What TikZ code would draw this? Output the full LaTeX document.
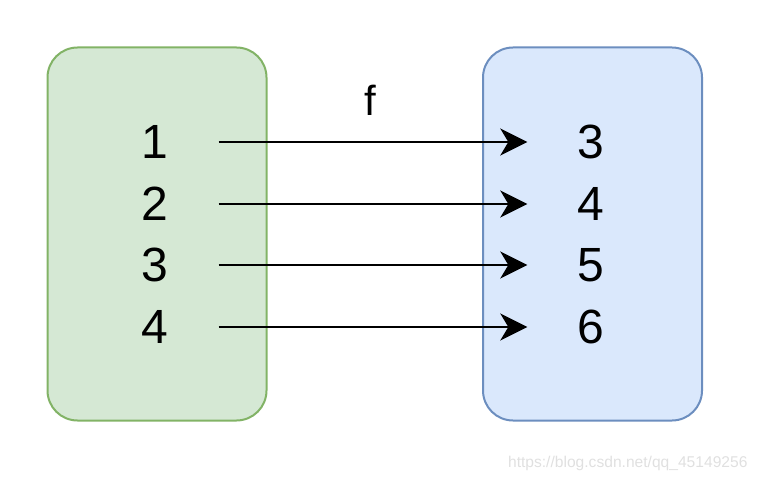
\documentclass[tikz,border=0pt]{standalone}
\usepackage{fontspec}
\setmainfont{Liberation Sans}
\usetikzlibrary{positioning, arrows.meta}

\definecolor{greenfill}{HTML}{D5E8D4}
\definecolor{greenline}{HTML}{82B366}
\definecolor{bluefill}{HTML}{DAE8FC}
\definecolor{blueline}{HTML}{6C8EBF}

\begin{document}
\begin{tikzpicture}[x = 1pt, y = -1pt,
    setbox/.style = { draw, line width = 2pt, rounded corners = 30pt, minimum width = 219pt, minimum height = 373pt },
    elem/.style = { inner sep = 0pt, minimum width = 127pt, minimum height = 50pt, font = \fontsize{48}{50}\selectfont },
    maps/.style = { line width = 2.4pt, -{Stealth[length = 27pt, width = 27pt, inset = 8pt]} }]
    \useasboundingbox (0,0) rectangle (759,481);
    \node [setbox, fill = greenfill, draw = greenline] (dom) at (157,234) {};
    \node [setbox, fill = bluefill, draw = blueline] (cod) at (592.5,234) {};
      \node [elem] (l1) at (155,142) {1};
      \node [elem] (l2) at (155,204) {2};
      \node [elem] (l3) at (155,265) {3};
      \node [elem] (l4) at (155,327) {4};
      \node [elem] (r1) at (591,142) {3};
      \node [elem] (r2) at (591,204) {4};
      \node [elem] (r3) at (591,265) {5};
      \node [elem] (r4) at (591,327) {6};
    \foreach \i in {1,...,4}
      \draw [maps] (l\i) -- (r\i);
    \node [font = \fontsize{42}{44}\selectfont] (fname) at (370,100) {f};
    \node [text = black!12, font = \fontsize{15.6}{16}\selectfont, anchor = east] (mark) at (751,463) {https://blog.csdn.net/qq\_45149256};
    \end{tikzpicture}
\end{document}
